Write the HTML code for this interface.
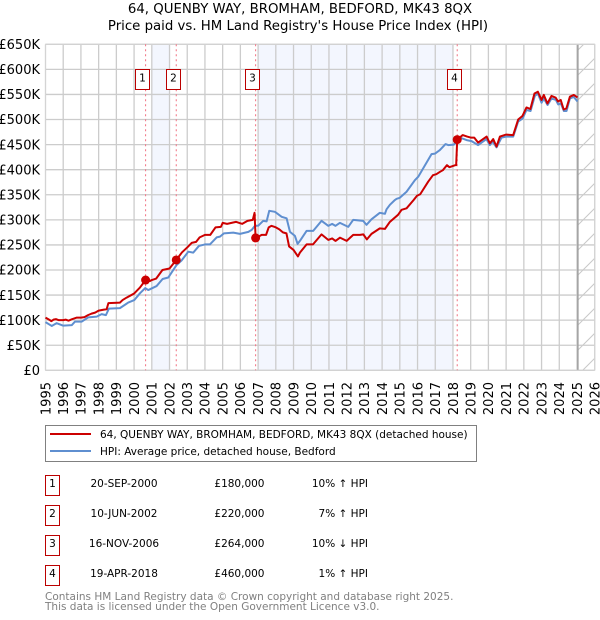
<!DOCTYPE html>
<html lang="en">
<head>
<meta charset="utf-8">
<title>64, Quenby Way price paid vs. HPI</title>
<style>
html,body{margin:0;padding:0;background:#fff;}
body{width:600px;height:620px;overflow:hidden;}
svg{display:block;font-family:"DejaVu Sans","Liberation Sans",sans-serif;}
</style>
</head>
<body>
<svg id="chart" xmlns="http://www.w3.org/2000/svg" width="600" height="620" viewBox="0 0 600 620">
  <defs>
    <pattern id="hatch" patternUnits="userSpaceOnUse" width="25" height="25" patternTransform="translate(3 0)">
      <path d="M-5 5 L5 -5 M0 25 L25 0 M20 30 L30 20" stroke="#c8c8c8" stroke-width="1" fill="none"/>
    </pattern>
  </defs>
  <text x="300" y="13" font-size="13.3" text-anchor="middle" fill="#000">64, QUENBY WAY, BROMHAM, BEDFORD, MK43 8QX</text>
  <text x="298" y="30" font-size="13.3" text-anchor="middle" fill="#000">Price paid vs. HM Land Registry's House Price Index (HPI)</text>
  <g id="bands"></g>
  <g id="grid"></g>
  <g id="ticks"></g>
  <g id="vlines"></g>
  <g id="series"></g>
  <g id="badges"></g>

  <g>
    <rect x="45.5" y="425.5" width="431" height="36" fill="#fff" stroke="#808080" stroke-width="1"/>
    <line x1="50" x2="91" y1="434" y2="434" stroke="#cc0000" stroke-width="2"/>
    <text x="100" y="438" font-size="10.5" fill="#000">64, QUENBY WAY, BROMHAM, BEDFORD, MK43 8QX (detached house)</text>
    <line x1="50" x2="91" y1="451" y2="451" stroke="#5f8fd0" stroke-width="2"/>
    <text x="100" y="455" font-size="10.5" fill="#000">HPI: Average price, detached house, Bedford</text>
  </g>

  <g id="sales-table" font-size="10.5" fill="#000"></g>

  <text x="45" y="600" font-size="10.5" fill="#808080">Contains HM Land Registry data © Crown copyright and database right 2025.</text>
  <text x="45" y="610" font-size="10.5" fill="#808080">This data is licensed under the Open Government Licence v3.0.</text>
</svg>
<script>
const yearTicks = [1995,1996,1997,1998,1999,2000,2001,2002,2003,2004,2005,2006,2007,2008,2009,2010,2011,2012,2013,2014,2015,2016,2017,2018,2019,2020,2021,2022,2023,2024,2025,2026];
const valueTicks = [0,50,100,150,200,250,300,350,400,450,500,550,600,650];
const valueTickLabels = ['£0','£50K','£100K','£150K','£200K','£250K','£300K','£350K','£400K','£450K','£500K','£550K','£600K','£650K'];

const priceYears = [1995.0,1995.1,1995.25,1995.33,1995.45,1995.6,1995.75,1996.0,1996.15,1996.3,1996.5,1996.75,1997.0,1997.2,1997.4,1997.6,1997.8,1998.0,1998.3,1998.45,1998.55,1999.2,1999.35,1999.58,2000.0,2000.33,2000.65,2000.9,2001.0,2001.25,2001.6,2002.0,2002.2,2002.38,2002.7,2003.0,2003.25,2003.5,2003.7,2004.0,2004.3,2004.6,2004.9,2005.0,2005.25,2005.5,2005.75,2006.0,2006.1,2006.4,2006.7,2006.8,2006.86,2007.0,2007.2,2007.45,2007.6,2007.75,2008.0,2008.2,2008.4,2008.6,2008.75,2009.0,2009.25,2009.36,2009.74,2010.1,2010.58,2010.96,2011.18,2011.37,2011.62,2012.0,2012.37,2012.75,2012.94,2013.14,2013.4,2013.87,2014.16,2014.44,2014.9,2015.1,2015.38,2015.78,2015.97,2016.15,2016.6,2016.87,2017.06,2017.28,2017.43,2017.66,2017.8,2018.13,2018.18,2018.24,2018.55,2018.8,2019.0,2019.2,2019.42,2019.9,2020.08,2020.27,2020.46,2020.65,2021.0,2021.4,2021.68,2021.92,2022.15,2022.37,2022.6,2022.79,2023.0,2023.13,2023.33,2023.56,2023.8,2023.93,2024.08,2024.25,2024.4,2024.6,2024.82,2025.03];
const priceValues = [105,103,100,98,101,102,100,100,101,99,102,105,105,106,110,113,115,119,121,121.6,134,135,140,145,153,165,180,178,180,183,200,203,212,220,235,245,254,256,265,270,270,285,286,294,292,294,296,293,292,298,300,314,264,266,270,270,285,288,285,281,275,273,247,240,227,234.6,251,251,271,260,263,258,264.5,258,270,270,271,261,272,283,282,296,310,320,323,339.5,348,351,376,389,391,396,399,409,405,409,409,460,469,466,464,464,454,466,452.5,461,446,466,470,469,500,507,524,521,552,555.5,539,549,532,547,543.5,536,539,520,522,545.5,549,544];

const hpiYears = [1995.0,1995.35,1995.63,1996.0,1996.48,1996.66,1997.04,1997.42,1997.89,1998.17,1998.41,1998.58,1999.2,1999.67,2000.01,2000.33,2000.63,2000.8,2001.27,2001.61,2001.93,2002.4,2002.68,2003.06,2003.34,2003.66,2004.0,2004.28,2004.66,2004.85,2005.07,2005.6,2005.98,2006.45,2006.64,2006.82,2007.01,2007.29,2007.48,2007.63,2007.95,2008.33,2008.61,2008.8,2009.08,2009.23,2009.36,2009.74,2010.11,2010.58,2010.96,2011.18,2011.37,2011.62,2012.09,2012.37,2012.93,2013.12,2013.4,2013.87,2014.16,2014.25,2014.44,2014.72,2014.82,2015.0,2015.38,2015.85,2016.04,2016.79,2016.98,2017.26,2017.58,2017.73,2018.05,2018.39,2018.77,2019.05,2019.42,2019.89,2020.08,2020.23,2020.46,2020.74,2021.02,2021.4,2021.68,2021.93,2022.15,2022.38,2022.62,2022.79,2023.0,2023.13,2023.34,2023.56,2023.81,2023.94,2024.09,2024.26,2024.41,2024.6,2024.82,2025.03];
const hpiValues = [96,88.4,94,89,90,97,97,105.6,107,112,110,123,124,135,140,153.5,164,160,168,182,185,210,219,236.5,234.6,248,251,251,265,266.5,273,274.5,272,276,280,288,288.4,298,297,318,316,306,303,276,268,252,258,278,278,298,288,292,288,294,286,300,298,290,301,314,312,321,330,339.5,342,344,356,379,386,431,432,439,451,449,450,464,459,457,449,461,449,456,444.5,464,466,466,496,502,519,517,547,552,533.5,542,529,542,539,530,532,517,517,542,545,536];

const saleNumbers = ['1','2','3','4'];
const saleYears = [2000.65,2002.38,2006.86,2018.24];
const saleValues = [180,220,264,460];
const saleDates = ['20-SEP-2000','10-JUN-2002','16-NOV-2006','19-APR-2018'];
const salePrices = ['£180,000','£220,000','£264,000','£460,000'];
const saleHpi = ['10% ↑ HPI','7% ↑ HPI','10% ↓ HPI','1% ↑ HPI'];

const shadedYearStarts = [2001,2007];
const shadedYearEnds = [2002,2018];
const dataEndYear = 2025.05;

const NS = 'http://www.w3.org/2000/svg';
const plotLeft = 45.5, plotRight = 594.7, plotTop = 44.3, plotBottom = 370.3;
const xMin = 1995, xMax = 2026, yMin = 0, yMax = 650;
function xScale(year){ return plotLeft + (year - xMin) / (xMax - xMin) * (plotRight - plotLeft); }
function yScale(v){ return plotBottom - (v - yMin) / (yMax - yMin) * (plotBottom - plotTop); }
function mk(parent, tag, attrs, text){
  const el = document.createElementNS(NS, tag);
  for (const k in attrs) el.setAttribute(k, attrs[k]);
  if (text !== undefined) el.textContent = text;
  parent.appendChild(el);
  return el;
}
const bands = document.getElementById('bands');
const grid = document.getElementById('grid');
const ticks = document.getElementById('ticks');
const vlines = document.getElementById('vlines');
const series = document.getElementById('series');
const badges = document.getElementById('badges');
const table = document.getElementById('sales-table');

shadedYearStarts.forEach(function(start, i){
  const r = mk(bands, 'rect', {x: xScale(start), y: plotTop, width: xScale(shadedYearEnds[i]) - xScale(start), height: plotBottom - plotTop, fill: '#f3f6fe'});
  
  
});
const hatchRect = mk(bands, 'rect', {x: xScale(dataEndYear), y: plotTop, width: plotRight - xScale(dataEndYear), height: plotBottom - plotTop, fill: 'url(#hatch)'});



yearTicks.forEach(function(year){
  const x = xScale(year);
  const line = mk(grid, 'line', {x1: x, x2: x, y1: plotTop, y2: plotBottom, stroke: '#cccccc', 'stroke-width': 1.3});
  
  
  const label = mk(ticks, 'text', {transform: 'translate(' + (x + 4.8) + ' 382) rotate(-90)', 'text-anchor': 'end', 'font-size': 13, fill: '#000'}, String(year));
  
  
});
valueTicks.forEach(function(v, i){
  const y = yScale(v);
  const line = mk(grid, 'line', {x1: plotLeft, x2: plotRight, y1: y, y2: y, stroke: '#cccccc', 'stroke-width': 1.3});
  
  
  const label = mk(ticks, 'text', {x: 40, y: y + 4.7, 'text-anchor': 'end', 'font-size': 13, fill: '#000'}, valueTickLabels[i]);
  
  
});
const endLine = mk(grid, 'line', {x1: xScale(dataEndYear), x2: xScale(dataEndYear), y1: plotTop, y2: plotBottom, stroke: '#a0a0a0', 'stroke-width': 1.5});



function linePath(xs, ys){
  return xs.map(function(year, i){ return (i ? 'L' : 'M') + xScale(year).toFixed(2) + ' ' + yScale(ys[i]).toFixed(2); }).join(' ');
}
const hpiLine = mk(series, 'path', {d: linePath(hpiYears, hpiValues), fill: 'none', stroke: '#5f8fd0', 'stroke-width': 2, 'stroke-linejoin': 'round'});


const priceLine = mk(series, 'path', {d: linePath(priceYears, priceValues), fill: 'none', stroke: '#cc0000', 'stroke-width': 2, 'stroke-linejoin': 'round'});



saleYears.forEach(function(year, i){
  const x = xScale(year);
  const vl = mk(vlines, 'line', {x1: x, x2: x, y1: plotTop, y2: plotBottom, stroke: '#f07080', 'stroke-width': 1, 'stroke-dasharray': '2 3'});
  
  
  const dot = mk(series, 'circle', {cx: x, cy: yScale(saleValues[i]), r: 4.5, fill: '#cc0000'});
  
  
  const boxX = Math.floor(x - 10) + 0.5;
  const box = mk(badges, 'rect', {x: boxX, y: 69.5, width: 14, height: 20, fill: '#fff', stroke: '#bb0000', 'stroke-width': 1});
  
  
  const num = mk(badges, 'text', {x: boxX + 7, y: 81.5, 'font-size': 10.5, 'text-anchor': 'middle', fill: '#000'}, saleNumbers[i]);
  
  

  const rowY = 475.5 + i * 30;
  const rowBox = mk(table, 'rect', {x: 45.5, y: rowY, width: 14, height: 20, fill: '#fff', stroke: '#bb0000', 'stroke-width': 1});
  
  
  const rowNum = mk(table, 'text', {x: 52.5, y: rowY + 11.5, 'text-anchor': 'middle'}, saleNumbers[i]);
  
  
  const rowDate = mk(table, 'text', {x: 124, y: rowY + 11.5, 'text-anchor': 'middle'}, saleDates[i]);
  
  
  const rowPrice = mk(table, 'text', {x: 264.5, y: rowY + 11.5, 'text-anchor': 'end'}, salePrices[i]);
  
  
  const rowHpi = mk(table, 'text', {x: 368, y: rowY + 11.5, 'text-anchor': 'end'}, saleHpi[i]);
  
  
});

const frame = mk(grid, 'rect', {x: plotLeft, y: plotTop, width: plotRight - plotLeft, height: plotBottom - plotTop, fill: 'none', stroke: '#d4d4d4', 'stroke-width': 1});


</script>
</body>
</html>
